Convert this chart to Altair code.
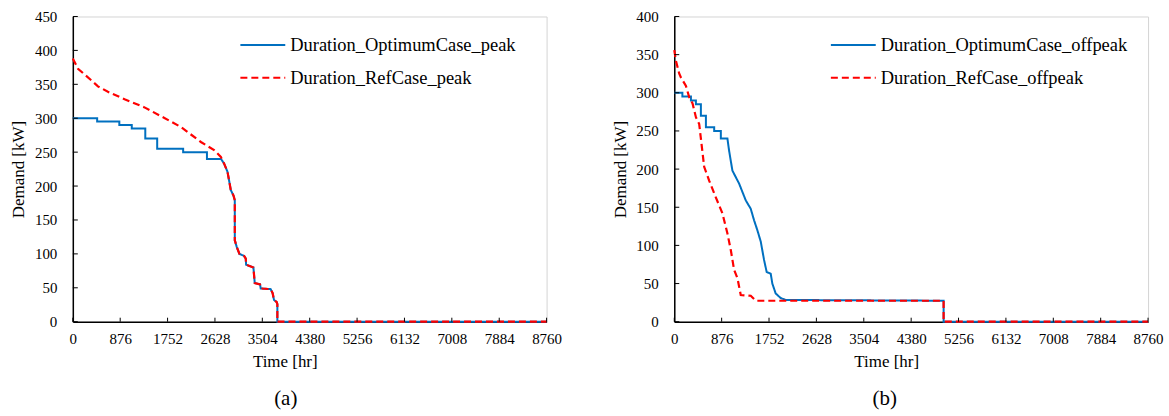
import altair as alt
import pandas as pd

FONT = "'Liberation Serif', 'Times New Roman', serif"
BLUE = "#0070C0"
RED = "#FF0000"
PANEL_W = 475
PANEL_H = 306

X_TICKS = [0, 876, 1752, 2628, 3504, 4380, 5256, 6132, 7008, 7884, 8760]

# Peak-period load duration curves: hours exceeded vs demand (kW)
peak_opt_hr = [0, 450, 450, 860, 860, 1090, 1090, 1340, 1340, 1560, 1560, 2040, 2040,
               2480, 2480, 2740, 2798, 2860, 2890, 2921, 2971, 2995, 2995, 3032, 3081,
               3167, 3198, 3204, 3339, 3364, 3462, 3474, 3658, 3695, 3720, 3769, 3782,
               3782, 8760]
peak_opt_kw = [300, 300, 295, 295, 290, 290, 285, 285, 270, 270, 255, 255, 250,
               250, 240, 240, 233, 221, 208, 194, 186, 179, 120, 110, 100,
               97, 93, 84, 80, 57, 55, 49, 48, 42, 32, 29, 26,
               0, 0]
peak_ref_hr = [0, 96, 341, 464, 649, 957, 1326, 1631, 2000, 2368, 2613, 2737, 2798,
               2860, 2890, 2921, 2971, 2995, 2995, 3032, 3081, 3167, 3198, 3204, 3339,
               3364, 3462, 3474, 3658, 3695, 3720, 3769, 3782, 3782, 8760]
peak_ref_kw = [388, 373, 356, 347, 339, 328, 316, 303, 287, 265, 253, 243, 233,
               221, 208, 194, 186, 179, 120, 110, 100, 97, 93, 84, 80,
               57, 55, 49, 48, 42, 32, 29, 26, 0, 0]

# Off-peak-period load duration curves
offpeak_opt_hr = [0, 150, 150, 308, 308, 400, 400, 492, 492, 585, 585, 738, 738,
                  861, 861, 983, 1014, 1075, 1199, 1322, 1414, 1475, 1536, 1599, 1660,
                  1709, 1783, 1813, 1875, 1968, 2060, 4980, 4980, 8760]
offpeak_opt_kw = [300, 300, 295, 295, 290, 290, 285, 285, 270, 270, 255, 255, 250,
                  250, 240, 240, 224, 198, 181, 159, 148, 133, 120, 105, 81,
                  65, 63, 50, 37, 31, 28.5, 27.5, 0, 0]
offpeak_ref_hr = [0, 31, 92, 123, 216, 277, 338, 400, 461, 553, 645, 768, 890, 982,
                  1045, 1106, 1168, 1229, 1414, 1506, 4980, 4980, 8760]
offpeak_ref_kw = [356, 342, 325, 320, 309, 294, 286, 268, 259, 203, 185, 163, 142, 116,
                  94, 68, 57, 35, 34, 27.5, 27.5, 0, 0]


def curve_frame(hours, demand, name):
    return pd.DataFrame({"hr": hours, "kw": demand, "series": name,
                         "seq": list(range(len(hours)))})


def panel(opt, ref, names, y_max, caption, legend_x, caption_x):
    y_ticks = list(range(0, y_max + 1, 50))
    color = alt.Color(
        "series:N",
        scale=alt.Scale(domain=names, range=[BLUE, RED]),
        legend=alt.Legend(
            title=None, orient="none", legendX=legend_x, legendY=5,
            symbolType="stroke", symbolSize=2025, symbolStrokeWidth=2,
            labelFont=FONT, labelFontSize=18.5, labelColor="black",
            labelOffset=4, rowPadding=-14, padding=0, labelLimit=400,
        ),
    )
    dash = alt.StrokeDash(
        "series:N",
        scale=alt.Scale(domain=names, range=[[1, 0], [7, 4]]),
        legend=None,
    )
    x = alt.X(
        "hr:Q",
        scale=alt.Scale(domain=[0, 8760], nice=False, zero=False),
        axis=alt.Axis(
            values=X_TICKS, format="d", title="Time [hr]", ticks=False,
            labelPadding=10, labelFont=FONT, labelFontSize=15, labelColor="black",
            labelFlush=False, labelOverlap=False, grid=False,
            domainColor="black", domainWidth=1.5,
            titleFont=FONT, titleFontSize=17, titleFontWeight="normal",
            titleColor="black", titleX=212.5, titleY=40,
            titleAlign="center", titleBaseline="middle",
        ),
    )
    y = alt.Y(
        "kw:Q",
        scale=alt.Scale(domain=[0, y_max], nice=False),
        axis=alt.Axis(
            values=y_ticks, format="d", title="Demand [kW]", ticks=False,
            labelPadding=16, labelFont=FONT, labelFontSize=15, labelColor="black",
            labelOverlap=False, grid=False,
            domainColor="black", domainWidth=1.5,
            titleFont=FONT, titleFontSize=17, titleFontWeight="normal",
            titleColor="black", titleX=-54, titleY=PANEL_H / 2,
            titleAlign="center", titleBaseline="middle",
        ),
    )
    opt_line = alt.Chart(opt).mark_line(strokeWidth=2).encode(
        x=x, y=y, color=color, strokeDash=dash, order="seq:Q")
    ref_line = alt.Chart(ref).mark_line(strokeWidth=2.2).encode(
        x=x, y=y, color=color, strokeDash=dash, order="seq:Q")

    # inward tick marks on both axes
    x_marks = alt.Chart(pd.DataFrame({"hr": X_TICKS})).mark_rule(
        color="black", strokeWidth=1).encode(
        x=x, y=alt.value(PANEL_H), y2=alt.value(PANEL_H - 4))
    y_marks = alt.Chart(pd.DataFrame({"kw": y_ticks})).mark_rule(
        color="black", strokeWidth=1).encode(
        y=y, x=alt.value(0), x2=alt.value(5))

    label = alt.Chart(pd.DataFrame({"cap": [caption]})).mark_text(
        font=FONT, fontSize=21, color="black", baseline="middle", align="center"
    ).encode(text="cap:N", x=alt.value(caption_x), y=alt.value(384))

    return alt.layer(opt_line, ref_line, x_marks, y_marks, label).properties(
        width=PANEL_W, height=PANEL_H)


peak_names = ["Duration_OptimumCase_peak", "Duration_RefCase_peak"]
offpeak_names = ["Duration_OptimumCase_offpeak", "Duration_RefCase_offpeak"]

left = panel(curve_frame(peak_opt_hr, peak_opt_kw, peak_names[0]),
             curve_frame(peak_ref_hr, peak_ref_kw, peak_names[1]),
             peak_names, 450, "(a)", 167, 213.5)
right = panel(curve_frame(offpeak_opt_hr, offpeak_opt_kw, offpeak_names[0]),
              curve_frame(offpeak_ref_hr, offpeak_ref_kw, offpeak_names[1]),
              offpeak_names, 400, "(b)", 156, 211)

chart = alt.hconcat(left, right, spacing=128, bounds="flush").resolve_scale(
    color="independent", strokeDash="independent", x="independent", y="independent"
).properties(
    padding={"left": 9, "top": 8, "right": 5, "bottom": 5},
    background="white",
).configure_view(stroke="#d4d4d4", strokeWidth=1)

chart.save("out.html", embed_options={"renderer": "svg", "actions": False})
